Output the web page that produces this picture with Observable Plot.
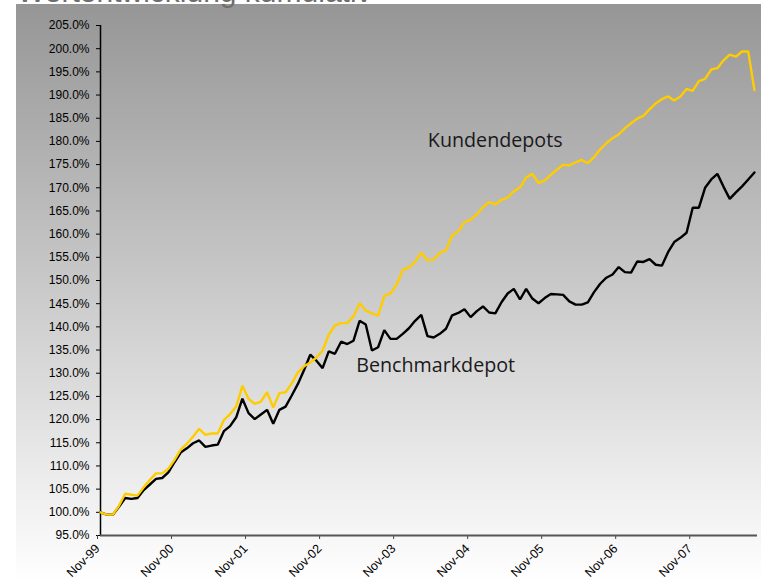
<!DOCTYPE html>
<html><head><meta charset="utf-8">
<script src="https://cdn.jsdelivr.net/npm/d3@7"></script>
<script src="https://cdn.jsdelivr.net/npm/@observablehq/plot@0.6"></script>
<style>
html,body{margin:0;padding:0;background:#fff;}
#wrap{position:relative;width:761px;height:582px;overflow:hidden;}
#bg{position:absolute;left:16px;top:4px;right:0;bottom:0;background:linear-gradient(to bottom,#969696,#ffffff);}
#chart{position:absolute;left:0;top:0;}
</style></head><body>
<div id="wrap"><div id="bg"></div><div id="chart"></div></div>
<script>
const kundendepots = [100.0,99.5,99.5,101.4,104.0,103.8,103.6,105.4,107.0,108.4,108.4,109.4,111.3,113.5,114.8,116.3,118.0,116.7,117.0,117.0,
119.9,121.2,122.8,127.3,124.5,123.4,123.9,125.9,122.6,125.7,125.9,127.8,130.2,131.5,132.3,133.4,134.9,138.3,140.3,140.8,
140.8,142.2,145.1,143.5,142.9,142.4,146.7,147.2,149.1,152.3,152.8,154.0,156.0,154.3,154.5,156.0,156.5,159.7,160.6,162.6,
163.1,164.3,165.8,166.9,166.4,167.4,167.9,169.2,170.1,172.2,173.0,171.0,171.6,172.8,173.9,175.0,174.8,175.5,176.0,175.3,
176.6,178.3,179.6,180.7,181.5,182.8,183.9,184.9,185.5,186.9,188.2,189.1,189.7,188.8,189.7,191.3,190.9,193.0,193.5,195.5,
195.8,197.5,198.7,198.3,199.4,199.4,191.1];
const benchmarkdepot = [100.0,99.5,99.5,101.2,103.1,102.9,103.1,104.8,106.0,107.2,107.4,108.6,110.8,112.9,113.8,114.9,115.5,114.1,114.4,114.6,
117.5,118.6,120.5,124.5,121.4,120.1,121.1,122.1,119.1,122.1,122.8,125.2,127.7,130.7,134.0,132.7,131.1,134.7,134.2,136.8,
136.3,137.0,141.3,140.5,134.9,135.6,139.3,137.4,137.4,138.5,139.7,141.3,142.6,138.0,137.7,138.5,139.6,142.5,143.0,143.8,
142.1,143.4,144.4,143.1,142.9,145.3,147.2,148.2,145.9,148.2,146.1,145.1,146.2,147.1,147.0,146.9,145.5,144.8,144.8,145.3,
147.5,149.3,150.6,151.3,152.9,151.8,151.7,154.1,154.0,154.6,153.4,153.2,156.1,158.3,159.2,160.3,165.7,165.7,170.0,171.8,
173.0,170.2,167.6,169.0,170.3,171.8,173.3];
const xTickIndex = [0,12,24,36,48,60,72,84,96];
const xTickLabels = ["Nov-99","Nov-00","Nov-01","Nov-02","Nov-03","Nov-04","Nov-05","Nov-06","Nov-07"];
const yTicks = [95,100,105,110,115,120,125,130,135,140,145,150,155,160,165,170,175,180,185,190,195,200,205];
const seriesLabels = ["Kundendepots","Benchmarkdepot"];
const seriesLabelX = [53.06,41.45];
const seriesLabelY = [178.9,130.2];
const titleText = "Wertentwicklung kumulativ";

const plot = Plot.plot({
  width: 761, height: 582,
  marginLeft: 100, marginRight: 4, marginTop: 25, marginBottom: 47,
  style: {background: "transparent", fontFamily: "'Liberation Sans', Arial, sans-serif", fontSize: "12px", color: "#000", overflow: "visible"},
  x: {domain: [0, 106.5], axis: null},
  y: {domain: [95, 205], axis: null},
  marks: [
    Plot.axisY({ticks: yTicks, tickFormat: d => d.toFixed(1) + "%", tickSize: 4, tickPadding: 7, fontSize: 12, stroke: "#000"}),
    Plot.axisX({ticks: xTickIndex, tickFormat: d => xTickLabels[xTickIndex.indexOf(d)], tickRotate: -45, tickSize: 4, tickPadding: 7, fontSize: 12.5, dx: -3, stroke: "#444"}),
    Plot.ruleX([0], {stroke: "#000", strokeWidth: 1.5}),
    Plot.ruleY([95], {stroke: "#555", strokeWidth: 2}),
    Plot.lineY(benchmarkdepot, {stroke: "#000", strokeWidth: 2.4, strokeLinejoin: "miter"}),
    Plot.lineY(kundendepots, {stroke: "#FFCC00", strokeWidth: 2.4, strokeLinejoin: "miter"}),
    Plot.text(seriesLabels, {x: seriesLabelX, y: seriesLabelY, text: d => d, textAnchor: "start", lineAnchor: "bottom", fontSize: 19.7, fontFamily: "'Open Sans', sans-serif", fill: "#1a1a1a"})
  ]
});
d3.select(plot).append("text")
  .attr("x", 17).attr("y", 2)
  .attr("text-anchor", "start")
  .attr("font-size", 30).attr("fill", "#6e6e6e")
  .attr("font-family", "'Liberation Sans', Arial, sans-serif")
  .text(titleText);
document.getElementById("chart").appendChild(plot);
</script>
</body></html>
